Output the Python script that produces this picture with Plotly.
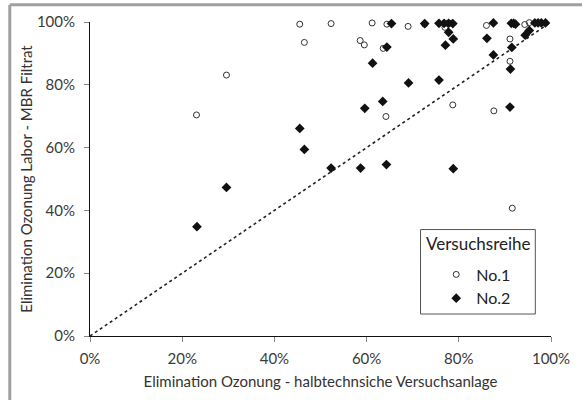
import plotly.graph_objects as go

# No.1 (open circles)
no1_x = [23.1, 29.6, 45.5, 46.5, 52.3, 58.6, 59.5, 61.2, 63.6, 64.2, 64.4, 69.0, 72.6,
         77.0, 77.3, 78.4, 78.7, 86.0, 87.6, 91.1, 91.1, 91.6, 94.3, 95.3]
no1_y = [70.4, 83.1, 99.3, 93.5, 99.5, 94.1, 92.7, 99.7, 91.6, 69.9, 99.3, 98.6, 99.3,
         98.3, 99.6, 99.6, 73.6, 98.9, 71.7, 94.6, 87.5, 40.7, 99.2, 99.8]

# No.2 (filled diamonds)
no2_x = [23.2, 29.6, 45.5, 46.5, 52.3, 58.7, 59.6, 61.3, 63.5, 64.3, 64.4, 65.4, 69.1,
         72.6, 75.7, 75.7, 76.8, 77.1, 77.8, 77.8, 78.7, 78.8, 78.8, 86.1, 87.5, 87.5,
         91.1, 91.2, 91.4, 91.5, 91.9, 92.3, 94.4, 95.3, 96.5, 97.2, 97.9, 98.8]
no2_y = [34.8, 47.3, 66.1, 59.4, 53.5, 53.5, 72.5, 86.9, 74.7, 54.6, 92.0, 99.5, 80.6,
         99.5, 81.5, 99.6, 99.6, 92.6, 99.6, 96.7, 99.5, 94.6, 53.3, 94.8, 99.7, 89.5,
         72.9, 85.0, 99.6, 91.9, 99.6, 99.3, 95.8, 97.3, 99.7, 99.7, 99.7, 99.7]

diag = [0, 1]
ticks = [0, 0.2, 0.4, 0.6, 0.8, 1.0]
tick_text = ["0%", "20%", "40%", "60%", "80%", "100%"]

FONT = "Lato"

fig = go.Figure()
fig.add_trace(go.Scatter(x=diag, y=diag, mode="lines", showlegend=False,
                         line=dict(color="#222222", width=1.6, dash="dot"),
                         hoverinfo="skip"))
fig.add_trace(go.Scatter(x=[v / 100 for v in no1_x], y=[v / 100 for v in no1_y],
                         mode="markers", name="No.1", cliponaxis=False,
                         marker=dict(symbol="circle-open", size=6,
                                     color="#333333", line=dict(width=1))))
fig.add_trace(go.Scatter(x=[v / 100 for v in no2_x], y=[v / 100 for v in no2_y],
                         mode="markers", name="No.2", cliponaxis=False,
                         marker=dict(symbol="diamond", size=7.5, color="#111111")))

axis_common = dict(range=[0, 1], tickvals=ticks, ticktext=tick_text,
                   showgrid=False, zeroline=False, showline=True,
                   linecolor="#111111", linewidth=1, ticks="outside",
                   ticklen=5, tickcolor="#888888",
                   tickfont=dict(family=FONT, size=15, color="#3a3a3a"))

fig.update_layout(
    width=582, height=400,
    margin=dict(l=90, r=22, t=22, b=62),
    paper_bgcolor="white", plot_bgcolor="white",
    font=dict(family=FONT, color="#333333"),
    xaxis=dict(**axis_common, ticklabelstandoff=4,
               title=dict(text="Elimination Ozonung - halbtechnsiche Versuchsanlage",
                          font=dict(family=FONT, size=15, color="#333333"),
                          standoff=10)),
    yaxis=dict(**axis_common, ticklabelstandoff=6,
               title=dict(text="Elimination Ozonung Labor - MBR Filtrat",
                          font=dict(family=FONT, size=15, color="#333333"),
                          standoff=0)),
    legend=dict(x=0.751, y=0.25, xanchor="left", yanchor="top",
                bgcolor="rgba(0,0,0,0)", borderwidth=0,
                font=dict(family=FONT, size=16, color="#222222"),
                itemwidth=30, tracegroupgap=0),
    showlegend=True,
)

# legend box and title
fig.add_shape(type="rect", xref="paper", yref="paper",
              x0=0.717, x1=0.966, y0=0.070, y1=0.339,
              line=dict(color="#555555", width=1), fillcolor="white", layer="above")
fig.add_annotation(text="Versuchsreihe", xref="paper", yref="paper",
                   x=0.724, y=0.333, xanchor="left", yanchor="top", showarrow=False,
                   font=dict(family=FONT, size=17, color="#222222"))

# outer frame of the figure (left and top edges are visible)
fig.add_shape(type="line", xref="paper", yref="paper",
              x0=-0.174, x1=-0.174, y0=-0.4, y1=1.055,
              line=dict(color="#a0a0a0", width=3), layer="below")
fig.add_shape(type="line", xref="paper", yref="paper",
              x0=-0.174, x1=1.2, y0=1.055, y1=1.055,
              line=dict(color="#a0a0a0", width=3), layer="below")

fig.write_html("out.html")
